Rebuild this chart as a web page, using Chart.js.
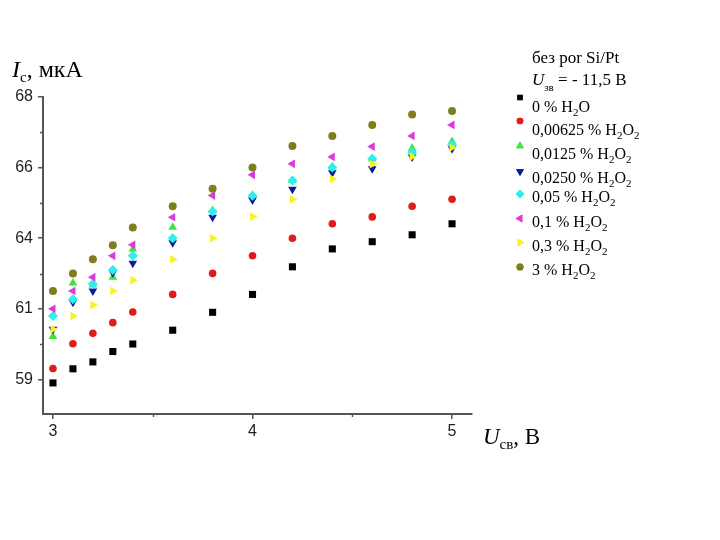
<!DOCTYPE html>
<html><head><meta charset="utf-8">
<script src="https://cdn.jsdelivr.net/npm/chart.js@4/dist/chart.umd.min.js"></script>
<style>html,body{margin:0;padding:0;background:#fff}#wrap{position:relative;width:720px;height:540px}</style>
</head><body><div id="wrap"><canvas id="c" width="720" height="540"></canvas></div>
<script>
// ---- data ----
const xValues = [3.0, 3.1, 3.2, 3.3, 3.4, 3.6, 3.8, 4.0, 4.2, 4.4, 4.6, 4.8, 5.0];
const h2o_0      = [58.89, 59.34, 59.56, 59.89, 60.13, 60.57, 61.14, 61.71, 62.59, 63.16, 63.39, 63.61, 63.96];
const h2o2_00625 = [59.35, 60.14, 60.47, 60.81, 61.15, 61.71, 62.38, 62.94, 63.50, 63.96, 64.18, 64.52, 64.74];
const h2o2_0125  = [60.37, 62.07, 62.01, 62.26, 63.15, 63.85, 64.38, 64.87, 65.34, 65.78, 66.03, 66.37, 66.58];
const h2o2_0250  = [60.60, 61.46, 61.82, 62.40, 62.70, 63.36, 64.17, 64.72, 65.06, 65.59, 65.71, 66.09, 66.35];
const h2o2_005   = [61.02, 61.56, 62.04, 62.49, 62.94, 63.50, 64.35, 64.85, 65.34, 65.75, 66.03, 66.24, 66.48];
const h2o2_01    = [61.25, 61.82, 62.26, 62.94, 63.29, 64.17, 64.86, 65.52, 65.87, 66.09, 66.42, 66.76, 67.11];
const h2o2_03    = [60.60, 61.02, 61.37, 61.82, 62.16, 62.83, 63.50, 64.19, 64.74, 65.39, 65.86, 66.10, 66.39];
const h2o2_3     = [61.82, 62.38, 62.83, 63.28, 63.84, 64.52, 65.08, 65.75, 66.44, 66.76, 67.11, 67.44, 67.55];

const seriesNames = ['0 % H_2O', '0,00625 % H_2O_2', '0,0125 % H_2O_2', '0,0250 % H_2O_2',
                     '0,05 % H_2O_2', '0,1 % H_2O_2', '0,3 % H_2O_2', '3 % H_2O_2'];
const seriesValues = [h2o_0, h2o2_00625, h2o2_0125, h2o2_0250, h2o2_005, h2o2_01, h2o2_03, h2o2_3];

const yTickValues = [59, 61.25, 63.5, 65.75, 68];
const yTickLabels = ['59', '61', '64', '66', '68'];
const yMinorValues = [60.125, 62.375, 64.625, 66.875];
const xTickValues = [3, 4, 5];
const xTickLabels = ['3', '4', '5'];
const xMinorValues = [3.5, 4.5];

const legendHeader = 'без por Si/Pt';
const legendHeader2 = [{t:'U', it:true}, {t:'зв', sub:true}, {t:' = - 11,5 B'}];
const yTitle = [{t:'I', it:true}, {t:'c', sub:true}, {t:', мкА'}];
const xTitle = [{t:'U', it:true}, {t:'св', sub:true}, {t:', B'}];

// ---- styles ----
const styles = [
  {c:'#000000', ps:'rect', rot:0, r:5, lr:3.8},
  {c:'#e01b1b', ps:'circle', rot:0, r:3.8, lr:3.3},
  {c:'#3ae63a', ps:'triangle', rot:0, r:5, lr:4.6},
  {c:'#0c1a9c', ps:'triangle', rot:180, r:5, lr:4.6},
  {c:'#2eeeee', ps:'rectRot', rot:0, r:5, lr:4.3},
  {c:'#dc3adc', ps:'triangle', rot:270, r:5, lr:4.6},
  {c:'#f4f424', ps:'triangle', rot:90, r:5, lr:4.6},
  {c:'#7e7e1e', ps:'circle', rot:0, r:4, lr:3.5}
];

const datasets = seriesValues.map((vals, i) => ({
  label: seriesNames[i],
  data: xValues.map((x, k) => ({x: x, y: vals[k]})),
  pointStyle: styles[i].ps,
  rotation: styles[i].rot,
  pointRadius: styles[i].r,
  pointHoverRadius: styles[i].r,
  backgroundColor: styles[i].c,
  borderColor: styles[i].c,
  borderWidth: 0,
  showLine: false,
  order: seriesValues.length - i
}));

function drawRich(ctx, x, y, segs, size, subSize, subOff) {
  let cx = x;
  segs.forEach(s => {
    const sz = s.sub ? subSize : size;
    ctx.font = (s.it ? 'italic ' : '') + sz + 'px "Liberation Serif", "DejaVu Serif", serif';
    ctx.fillText(s.t, cx, y + (s.sub ? subOff : 0));
    cx += ctx.measureText(s.t).width;
  });
}
function parseSub(str) {
  const segs = [];
  let buf = '';
  for (let i = 0; i < str.length; i++) {
    if (str[i] === '_' && i + 1 < str.length) {
      if (buf) { segs.push({t: buf}); buf = ''; }
      segs.push({t: str[i + 1], sub: true});
      i++;
    } else buf += str[i];
  }
  if (buf) segs.push({t: buf});
  return segs;
}
function drawMarker(ctx, st, x, y, r) {
  ctx.save();
  ctx.fillStyle = st.c; ctx.strokeStyle = st.c;
  if (Chart.helpers && Chart.helpers.drawPoint) {
    Chart.helpers.drawPoint(ctx, {pointStyle: st.ps, rotation: st.rot, radius: r, borderWidth: 0}, x, y);
    ctx.fill();
  } else {
    ctx.beginPath(); ctx.arc(x, y, r, 0, Math.PI * 2); ctx.fill();
  }
  ctx.restore();
}

const decor = {
  id: 'decor',
  afterDraw(chart) {
    const ctx = chart.ctx;
    const xs = chart.scales.x, ys = chart.scales.y;
    const area = chart.chartArea;
    ctx.save();
    ctx.strokeStyle = '#555'; ctx.lineWidth = 1.5;
    xMinorValues.forEach(v => {
      const px = Math.round(xs.getPixelForValue(v)) + 0.5;
      ctx.beginPath(); ctx.moveTo(px, area.bottom); ctx.lineTo(px, area.bottom + 3); ctx.stroke();
    });
    yMinorValues.forEach(v => {
      const py = Math.round(ys.getPixelForValue(v)) + 0.5;
      ctx.beginPath(); ctx.moveTo(area.left, py); ctx.lineTo(area.left - 3, py); ctx.stroke();
    });
    // axis titles
    ctx.fillStyle = '#000';
    ctx.textBaseline = 'alphabetic';
    ctx.textAlign = 'left';
    drawRich(ctx, 12, 77, yTitle, 24, 15, 5);
    drawRich(ctx, 483, 444, xTitle, 23, 15, 5);
    // legend header
    ctx.font = '17px "Liberation Serif", serif';
    ctx.fillText(legendHeader, 532, 63);
    drawRich(ctx, 532, 85, legendHeader2, 17, 11, 6);
    // legend entries
    const markerY = [97.5, 121, 146, 171.5, 194, 218.5, 242.5, 267];
    const textY = [112, 135, 159, 183, 202, 226.5, 250.5, 275];
    seriesNames.forEach((n, i) => {
      drawMarker(ctx, styles[i], 520, markerY[i], styles[i].lr);
      ctx.fillStyle = '#000';
      drawRich(ctx, 532, textY[i], parseSub(n), 16, 11, 4);
    });
    ctx.restore();
  }
};

new Chart(document.getElementById('c'), {
  type: 'scatter',
  data: {datasets},
  options: {
    responsive: false,
    animation: false,
    devicePixelRatio: 1,
    layout: {padding: {left: 0, top: 97, right: 248, bottom: 0}},
    plugins: {legend: {display: false}, tooltip: {enabled: false}},
    scales: {
      x: {
        type: 'linear', min: 2.95, max: 5.1,
        afterBuildTicks: s => { s.ticks = xTickValues.map(v => ({value: v})); },
        afterFit: s => { s.height = 126; },
        ticks: {
          callback: v => xTickLabels[xTickValues.indexOf(v)],
          font: {family: '"Liberation Sans", Arial, sans-serif', size: 16},
          color: '#222', padding: 3, maxRotation: 0, autoSkip: false
        },
        grid: {drawOnChartArea: false, drawTicks: true, tickLength: 5, color: '#555', lineWidth: 1.5},
        border: {display: true, color: '#555', width: 2}
      },
      y: {
        type: 'linear', min: 57.9, max: 68,
        afterBuildTicks: s => { s.ticks = yTickValues.map(v => ({value: v})); },
        afterFit: s => { s.width = 43; },
        ticks: {
          callback: v => yTickLabels[yTickValues.indexOf(v)],
          font: {family: '"Liberation Sans", Arial, sans-serif', size: 16},
          color: '#222', padding: 5, autoSkip: false
        },
        grid: {drawOnChartArea: false, drawTicks: true, tickLength: 5, color: '#555', lineWidth: 1.5},
        border: {display: true, color: '#555', width: 2}
      }
    }
  },
  plugins: [decor]
});
</script>
</body></html>
